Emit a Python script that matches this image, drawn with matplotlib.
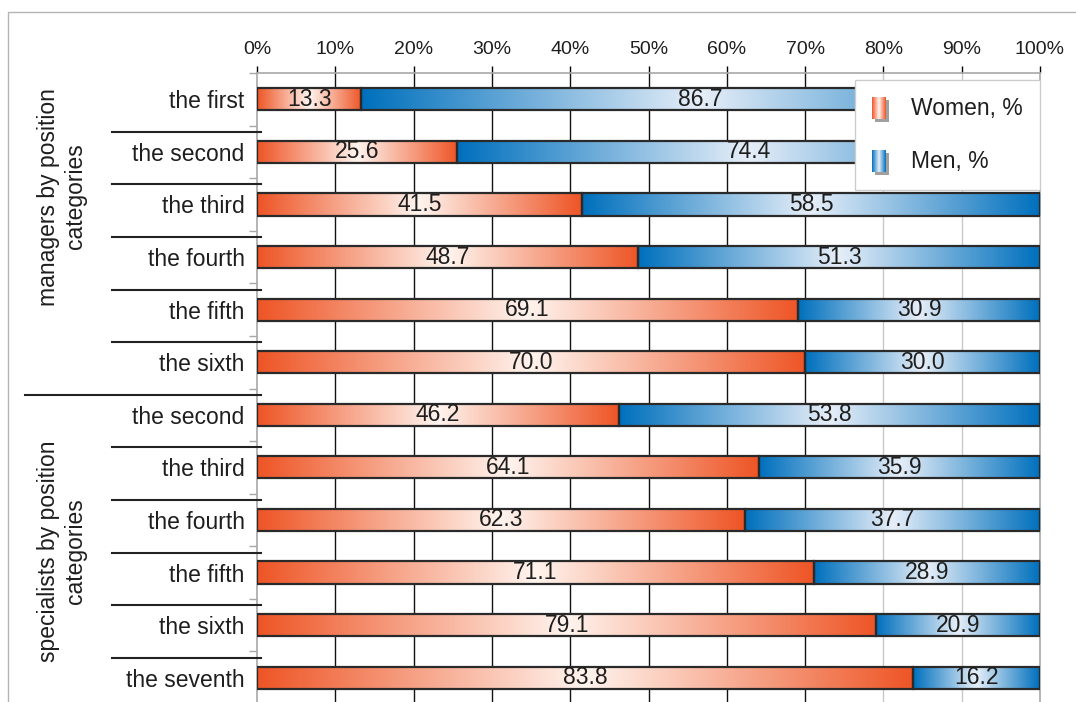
import numpy as np
import matplotlib.pyplot as plt
from matplotlib.patches import Rectangle
from matplotlib.lines import Line2D
from matplotlib.colors import LinearSegmentedColormap
from matplotlib.legend_handler import HandlerBase
from matplotlib import transforms

plt.rcParams['font.family'] = ['Liberation Sans', 'DejaVu Sans']

# data
categories = ["the first", "the second", "the third", "the fourth", "the fifth", "the sixth",
              "the second", "the third", "the fourth", "the fifth", "the sixth", "the seventh"]
group_names = ["managers by position\ncategories", "specialists by position\ncategories"]
group_sizes = [6, 6]
women = [13.3, 25.6, 41.5, 48.7, 69.1, 70.0, 46.2, 64.1, 62.3, 71.1, 79.1, 83.8]
men = [86.7, 74.4, 58.5, 51.3, 30.9, 30.0, 53.8, 35.9, 37.7, 28.9, 20.9, 16.2]
series_names = ["Women, %", "Men, %"]
x_ticks = list(range(0, 101, 10))

TXT = '#1e1e1e'
FS = 16.5

women_cmap = LinearSegmentedColormap.from_list("women", ["#ee5526", "#fff4ee", "#ee5526"])
men_cmap = LinearSegmentedColormap.from_list("men", ["#0070bd", "#e6eef8", "#0070bd"])


class GradientHandle(HandlerBase):
    """Legend key drawn as a small shaded cylinder."""

    def __init__(self, cmap):
        super().__init__()
        self.cmap = cmap

    def create_artists(self, legend, orig_handle, xdescent, ydescent,
                       width, height, fontsize, trans):
        x0, y0 = -xdescent, -ydescent - 0.15 * height
        h = height * 1.2
        arts = [Rectangle((x0 + 2, y0 - 2), width, h, facecolor='#a0a0a0',
                          edgecolor='none', transform=trans)]
        n = 14
        for i in range(n):
            arts.append(Rectangle((x0 + width * i / n, y0), width / n + 0.3, h,
                                  facecolor=self.cmap((i + 0.5) / n),
                                  edgecolor='none', transform=trans))
        return arts


fig = plt.figure(figsize=(10.76, 7.02), dpi=100)
ax = fig.add_axes([257 / 1076, -2 / 702, (1040 - 257) / 1076, (704 - 73) / 702])

y = np.arange(len(categories))
bar_h = 0.42

bars_w = ax.barh(y, women, height=bar_h, facecolor='none', edgecolor='#2a2a2a',
                 lw=1.6, zorder=3)
bars_m = ax.barh(y, men, left=women, height=bar_h, facecolor='none',
                 edgecolor='#2a2a2a', lw=1.6, zorder=3)

grad = np.linspace(0, 1, 256).reshape(1, -1)
for bars, cmap in ((bars_w, women_cmap), (bars_m, men_cmap)):
    for p in bars:
        x0, y0, w, h = p.get_x(), p.get_y(), p.get_width(), p.get_height()
        ax.imshow(grad, cmap=cmap, extent=(x0, x0 + w, y0 + h, y0),
                  aspect='auto', interpolation='bilinear', zorder=2.5)

ax.bar_label(bars_w, labels=[f"{v:.1f}" for v in women], label_type='center',
             fontsize=FS, color=TXT, zorder=4)
ax.bar_label(bars_m, labels=[f"{v:.1f}" for v in men], label_type='center',
             fontsize=FS, color=TXT, zorder=4)

# vertical gridlines
for t in x_ticks[1:-1]:
    ax.axvline(t, color='#111111' if t <= 70 else '#c8c8c8', lw=1.0, zorder=1)

ax.set_xlim(0, 100)
ax.set_ylim(len(categories) - 0.5, -0.5)

# x axis on top
ax.xaxis.tick_top()
ax.set_xticks(x_ticks)
ax.set_xticklabels([f"{t}%" for t in x_ticks], fontsize=14, color=TXT)
ax.tick_params(axis='x', length=5, width=1, pad=6)
for t, tk in zip(x_ticks, ax.xaxis.get_major_ticks()):
    col = '#111111' if 0 < t <= 70 else '#b0b0b0'
    tk.tick1line.set_color(col)
    tk.tick2line.set_color(col)

# category labels
ax.set_yticks(y)
ax.set_yticklabels(categories, fontsize=FS, color=TXT)
ax.tick_params(axis='y', which='major', length=0, pad=9)
ax.set_yticks(np.arange(-0.5, len(categories), 1.0), minor=True)
ax.tick_params(axis='y', which='minor', length=6, color='#a8a8a8', width=1)

for side in ('left', 'top', 'right'):
    ax.spines[side].set_color('#a8a8a8')
    ax.spines[side].set_linewidth(1.2)
ax.spines['bottom'].set_visible(False)

# separators in the label area
trans = transforms.blended_transform_factory(fig.transFigure, ax.transData)
start = 0
for gi, n in enumerate(group_sizes):
    for k in range(start, start + n - 1):
        yy = k + 0.62
        fig.add_artist(Line2D([112 / 1076, 261 / 1076], [yy, yy], color='#222222',
                              lw=1.5, transform=trans))
    if gi < len(group_sizes) - 1:
        yy = start + n - 1 + 0.62
        fig.add_artist(Line2D([25 / 1076, 261 / 1076], [yy, yy], color='#222222',
                              lw=1.5, transform=trans))
    start += n

label_y = [1.85, 8.6]
for name, yy in zip(group_names, label_y):
    fig.text(62 / 1076, yy, name, transform=trans, rotation=90, ha='center',
             va='center', fontsize=FS, color=TXT, linespacing=1.25)

# outer frame
fig.add_artist(Rectangle((8 / 1076, -0.05), 1.0, 1 - 12 / 702 + 0.05, fill=False,
                         edgecolor='#b4b4b4', lw=1.0, transform=fig.transFigure))

handles = [Rectangle((0, 0), 1, 1, label=series_names[0]),
           Rectangle((0, 0), 1, 1, label=series_names[1])]
leg = ax.legend(handles=handles, handler_map={handles[0]: GradientHandle(women_cmap),
                                              handles[1]: GradientHandle(men_cmap)},
                loc='upper right', bbox_to_anchor=(1.0, 0.989), borderaxespad=0,
                fontsize=FS, frameon=True, fancybox=False, framealpha=1,
                edgecolor='#cccccc', borderpad=0.75, labelspacing=1.3,
                handlelength=0.6, handleheight=0.85, handletextpad=1.1)
for txt in leg.get_texts():
    txt.set_color(TXT)
leg.get_frame().set_linewidth(1.0)
leg.set_zorder(6)

fig.savefig("out.png", dpi=100)
